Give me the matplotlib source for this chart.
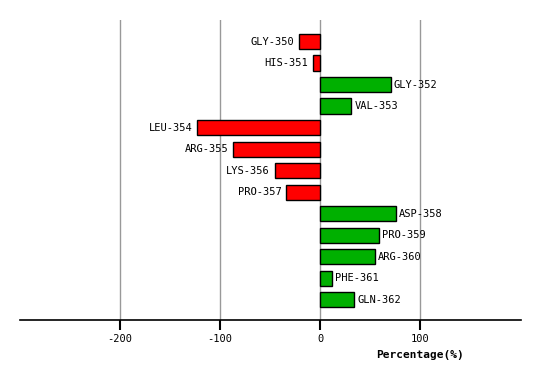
import matplotlib
matplotlib.use('Agg')
import matplotlib.pyplot as plt

residues = ['GLY-350', 'HIS-351', 'GLY-352', 'VAL-353', 'LEU-354', 'ARG-355', 'LYS-356',
            'PRO-357', 'ASP-358', 'PRO-359', 'ARG-360', 'PHE-361', 'GLN-362']
percent = [-20.7, -6.7, 70.7, 31.3, -122.7, -86.7, -45.3, -33.7, 76.3, 59.0, 55.0, 12.0, 34.0]
ticks = [-200, -100, 0, 100]

plt.rcParams['font.family'] = 'DejaVu Sans Mono'
plt.rcParams['font.size'] = 7.5

fig = plt.figure(figsize=(5.4, 3.8), dpi=100)
ax = fig.add_axes([20/540, 60/380, 501/540, 300/380])

colors = ['#ff0000' if v < 0 else '#00b000' for v in percent]
ypos = list(range(len(residues)))
ax.barh(ypos, percent, height=0.7, color=colors, edgecolor='black', linewidth=1, zorder=3)

for y, v, name in zip(ypos, percent, residues):
    if v < 0:
        ax.text(v - 5, y, name, ha='right', va='center', fontsize=7.5, zorder=4)
    else:
        ax.text(v + 3, y, name, ha='left', va='center', fontsize=7.5, zorder=4)

ax.set_xlim(-300, 201)
ax.set_ylim(12.95, -1.0)
ax.set_xticks(ticks)
ax.set_xticklabels([str(t) for t in ticks])
ax.set_yticks([])
ax.grid(axis='x', color='#999999', linewidth=1, zorder=0)
for s in ['top', 'left', 'right']:
    ax.spines[s].set_visible(False)
ax.spines['bottom'].set_linewidth(1.2)
ax.tick_params(axis='x', length=7, width=1.5, color='black', pad=3)

ax.text(100, -0.117, 'Percentage(%)', transform=ax.get_xaxis_transform(),
        ha='center', va='center', fontweight='bold', fontsize=8)

plt.savefig('out.png', dpi=100)
